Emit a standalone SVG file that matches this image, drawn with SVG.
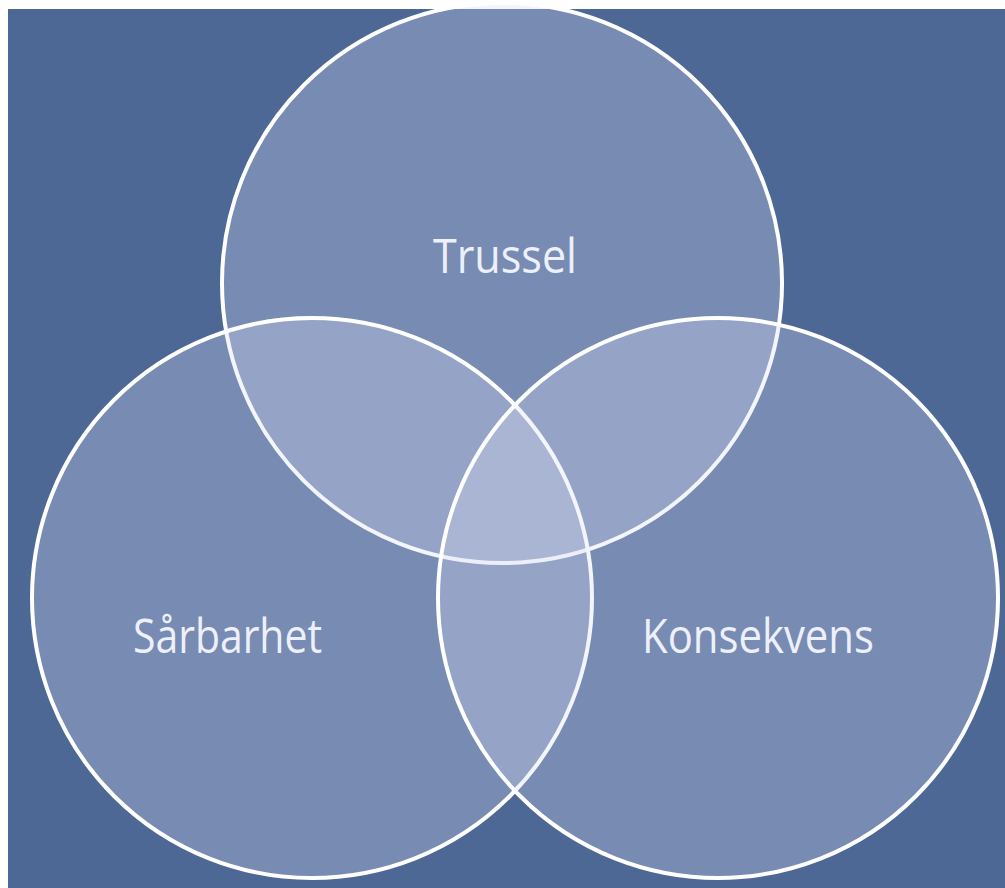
<svg xmlns="http://www.w3.org/2000/svg" width="1005" height="888" viewBox="0 0 1005 888">
  <style>
    .circle { fill: #dcdff5; fill-opacity: 0.3; stroke: #ffffff; stroke-width: 4; }
    .label { font-family: "Open Sans", "Noto Sans", "Liberation Sans", sans-serif; font-size: 48px; fill: #edf0fa; text-anchor: start; }
  </style>
  <rect x="0" y="0" width="1005" height="888" fill="#ffffff"/>
  <rect x="8" y="9" width="997" height="879" fill="#4e6895"/>
  <g id="node-trussel">
    <circle class="circle" cx="502" cy="283" r="280"/>
  </g>
  <g id="node-sarbarhet">
    <circle class="circle" cx="312" cy="598" r="280"/>
  </g>
  <g id="node-konsekvens">
    <circle class="circle" cx="718" cy="598" r="280"/>
  </g>
  <g id="connectors"></g>
  <g id="labels">
    <text class="label" x="433" y="273" textLength="144" lengthAdjust="spacingAndGlyphs">Trussel</text>
    <text class="label" x="133" y="653" textLength="189" lengthAdjust="spacingAndGlyphs">Sårbarhet</text>
    <text class="label" x="642" y="653" textLength="232" lengthAdjust="spacingAndGlyphs">Konsekvens</text>
  </g>
</svg>
